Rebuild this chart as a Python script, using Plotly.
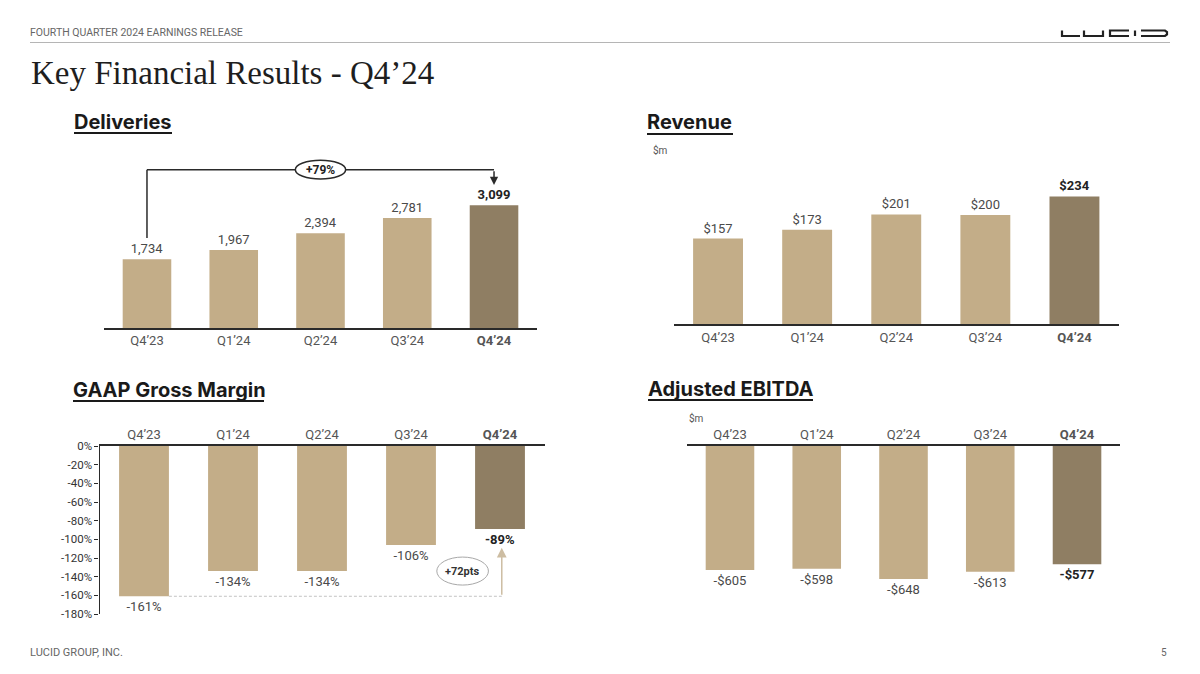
import plotly.graph_objects as go

W, H = 1200, 674

quarters = ["Q4’23", "Q1’24", "Q2’24", "Q3’24", "Q4’24"]
deliveries = [1734, 1967, 2394, 2781, 3099]
revenue = [157, 173, 201, 200, 234]
gross_margin = [-161, -134, -134, -106, -89]
adj_ebitda = [-605, -598, -648, -613, -577]
yoy_label = "+79%"
gm_change_label = "+72pts"

LIGHT = "#C3AD88"
DARK = "#8F7E63"
TXT = "#4a4a4a"
FONT = "Roboto"

bar_colors = [LIGHT] * 4 + [DARK]
label_colors = [TXT] * 4 + ["#222222"]


def bold_last(items):
    return items[:-1] + [f"<b>{items[-1]}</b>"]


def px(x, y):
    # pixel position on the slide -> paper coords
    return x / W, 1 - y / H


def dom_x(a, b):
    return [a / W, b / W]


def dom_y(top, bottom):
    return [1 - bottom / H, 1 - top / H]


tick_text = bold_last(quarters)

fig = go.Figure()


def add_bars(values, labels, xa, ya):
    fig.add_trace(go.Bar(
        x=quarters, y=values, xaxis=xa, yaxis=ya,
        marker=dict(color=bar_colors, line_width=0),
        text=bold_last(labels), textposition="outside",
        textfont=dict(family=FONT, size=13, color=label_colors),
        constraintext="none", cliponaxis=False, hoverinfo="skip",
    ))


add_bars(deliveries, [f"{v:,}" for v in deliveries], "x", "y")
add_bars(revenue, [f"${v}" for v in revenue], "x2", "y2")
add_bars(gross_margin, [f"{v}%" for v in gross_margin], "x3", "y3")
add_bars(adj_ebitda, [f"-${-v}" for v in adj_ebitda], "x4", "y4")

xcommon = dict(type="category", showline=True, linecolor="#2a2a2a", linewidth=1.5,
               ticks="", showgrid=False, zeroline=False, fixedrange=True, automargin=False,
               tickmode="array", tickvals=quarters, ticktext=tick_text,
               tickfont=dict(family=FONT, size=13, color="#555555"))

gm_ticks = list(range(0, -181, -20))

fig.update_layout(
    width=W, height=H, autosize=False,
    margin=dict(l=0, r=0, t=0, b=0, pad=0),
    paper_bgcolor="white", plot_bgcolor="rgba(0,0,0,0)",
    showlegend=False, bargap=0.44,
    font=dict(family=FONT, color=TXT),
    xaxis=dict(xcommon, domain=dom_x(103.6, 537.4), anchor="y"),
    yaxis=dict(domain=dom_y(150, 328), range=[0, 4496], visible=False, anchor="x",
               automargin=False),
    xaxis2=dict(xcommon, domain=dom_x(673.5, 1119), anchor="y2"),
    yaxis2=dict(domain=dom_y(150, 324.3), range=[0, 319], visible=False, anchor="x2",
                automargin=False),
    xaxis3=dict(xcommon, domain=dom_x(99.5, 544.5), anchor="y3", side="top"),
    yaxis3=dict(domain=dom_y(446, 614), range=[-180, 0], anchor="x3", automargin=False,
                tickmode="array", tickvals=gm_ticks, ticktext=[f"{v}%" for v in gm_ticks],
                showline=True, linecolor="#2a2a2a", linewidth=1.2,
                ticks="outside", ticklen=4, tickcolor="#2a2a2a",
                showgrid=False, zeroline=False, fixedrange=True,
                tickfont=dict(family=FONT, size=11.5, color="#333333")),
    xaxis4=dict(xcommon, domain=dom_x(686.6, 1120.4), anchor="y4", side="top"),
    yaxis4=dict(domain=dom_y(446, 614), range=[-819, 0], visible=False, anchor="x4",
                automargin=False),
)

# ---- slide furniture ----
ann = []
shapes = []


def paper_text(x, y, text, size, color="#555555", family=FONT, xanchor="left"):
    px_, py_ = px(x, y)
    ann.append(dict(x=px_, y=py_, xref="paper", yref="paper", text=text, showarrow=False,
                    xanchor=xanchor, yanchor="middle", xshift=-1,
                    font=dict(family=family, size=size, color=color)))


def paper_line(x0, y0, x1, y1, color, width):
    a, b = px(x0, y0)
    c, d = px(x1, y1)
    shapes.append(dict(type="line", xref="paper", yref="paper", x0=a, y0=b, x1=c, y1=d,
                       line=dict(color=color, width=width)))


paper_text(29, 33, "FOURTH QUARTER 2024 EARNINGS RELEASE", 10.5, "#666666")
paper_line(30, 42.5, 1170, 42.5, "#b5b5b5", 1)
paper_text(30, 73, "Key Financial Results - Q4’24", 33, "#1e1e1e", family="Liberation Serif")
paper_text(29, 652, "LUCID GROUP, INC.", 11, "#666666")
paper_text(1170, 652, "5", 10, "#666666", xanchor="right")

# logo
logo = [
    [(1062, 30.5), (1062, 36), (1080, 36)],
    [(1084, 30.5), (1084, 36), (1103, 36), (1103, 30.5)],
    [(1129, 30.5), (1110, 30.5), (1110, 36), (1129, 36)],
    [(1135, 30.5), (1135, 36)],
    [(1141, 30.5), (1165, 30.5), (1167, 32), (1167, 34.5), (1165, 36), (1141, 36)],
]
for pts in logo:
    path = ""
    for i, (x, y) in enumerate(pts):
        a, b = px(x, y)
        path += ("M" if i == 0 else "L") + f"{a},{b} "
    shapes.append(dict(type="path", xref="paper", yref="paper", path=path,
                       line=dict(color="#222222", width=2.2)))

# section headings
for x, y, text, x1, uy in [(73, 122, "Deliveries", 172, 133),
                           (646, 122, "Revenue", 733, 134),
                           (72, 390, "GAAP Gross Margin", 264, 401),
                           (647, 389, "Adjusted EBITDA", 813, 400)]:
    paper_text(x, y, f"<b>{text}</b>", 20, "#1a1a1a", family="Inter")
    paper_line(x + 1, uy, x1, uy, "#1a1a1a", 2)

paper_text(652, 150, "$m", 10, "#555555")
paper_text(688, 418, "$m", 10, "#555555")

# ---- deliveries YoY bracket ----
yoy_y = 4000
shapes.append(dict(type="line", xref="x", yref="y", x0=0, x1=0, y0=2273, y1=yoy_y,
                   line=dict(color="#2a2a2a", width=1.5)))
shapes.append(dict(type="line", xref="x", yref="y", x0=0, x1=4, y0=yoy_y, y1=yoy_y,
                   line=dict(color="#2a2a2a", width=1.5)))
shapes.append(dict(type="circle", xref="x", yref="y", x0=1.71, x1=2.29,
                   y0=yoy_y - 235, y1=yoy_y + 235, fillcolor="white",
                   line=dict(color="#2a2a2a", width=1.5)))
ann.append(dict(x=2, y=yoy_y, xref="x", yref="y", text=f"<b>{yoy_label}</b>",
                showarrow=False, font=dict(family=FONT, size=12, color="#222222")))
ann.append(dict(x=2, y=yoy_y + 750, xref="x", yref="y", text="YoY",
                showarrow=False, font=dict(family=FONT, size=13, color="#444444")))
ann.append(dict(x=4, y=3612, xref="x", yref="y", text="", showarrow=True,
                ax=0, axref="pixel", ay=yoy_y, ayref="y",
                arrowhead=2, arrowsize=1.1, arrowwidth=1.5, arrowcolor="#2a2a2a"))

# ---- gross margin improvement ----
gm_base = gross_margin[0]
shapes.append(dict(type="line", xref="x3", yref="y3", x0=0.28, x1=4.02, y0=gm_base, y1=gm_base,
                   line=dict(color="#c4c4c4", width=1, dash="3px,2px")))
ann.append(dict(x=4.02, y=-109, xref="x3", yref="y3", text="", showarrow=True,
                ax=0, axref="pixel", ay=gm_base, ayref="y3",
                arrowhead=2, arrowsize=1.3, arrowwidth=1.5, arrowcolor="#CDBDA2"))
shapes.append(dict(type="circle", xref="x3", yref="y3", x0=3.29, x1=3.87, y0=-149, y1=-119,
                   fillcolor="white", line=dict(color="#a8a8a8", width=1)))
ann.append(dict(x=3.58, y=-134, xref="x3", yref="y3", text=f"<b>{gm_change_label}</b>",
                showarrow=False, font=dict(family=FONT, size=11, color="#333333")))

fig.update_layout(annotations=ann, shapes=shapes)

fig.write_html("out.html", config={"displayModeBar": False},
               post_script="document.body.style.margin='0';")
